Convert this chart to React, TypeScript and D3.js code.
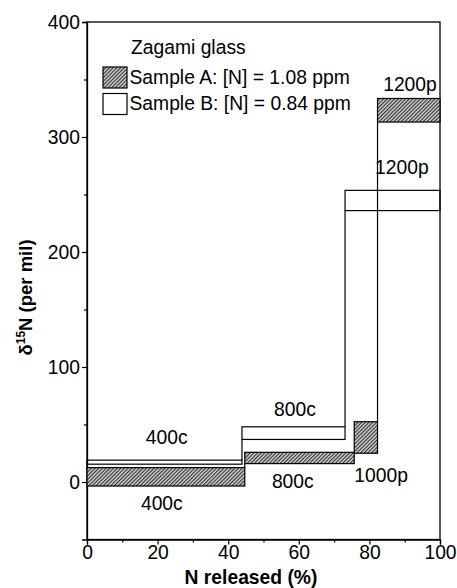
import React, { useEffect, useRef } from 'react';
import * as d3 from 'd3';

// step boxes: release interval (%) and delta range (per mil)
const sampleA = [
  { step: '400c', x0: 0, x1: 44.7, lo: -3.5, hi: 12.5 },
  { step: '800c', x0: 44.7, x1: 75.7, lo: 16, hi: 25.8 },
  { step: '1000p', x0: 75.7, x1: 82.3, lo: 25, hi: 52.4 },
  { step: '1200p', x0: 82.3, x1: 100, lo: 313, hi: 333.5 },
];
const sampleB = [
  { step: '400c', x0: 0, x1: 43.9, lo: 15.5, hi: 19 },
  { step: '800c', x0: 43.9, x1: 73.1, lo: 37, hi: 48 },
  { step: '1200p', x0: 73.1, x1: 100, lo: 236, hi: 253.6 },
];
const stepLabels = [
  { text: '400c', x: 22.6, y: 33 },
  { text: '400c', x: 21.2, y: -24.3 },
  { text: '800c', x: 58.9, y: 57.4 },
  { text: '800c', x: 58.3, y: -5.2 },
  { text: '1000p', x: 83.3, y: 0 },
  { text: '1200p', x: 91.5, y: 340 },
  { text: '1200p', x: 89.2, y: 267.8 },
];
const xTicks = [0, 20, 40, 60, 80, 100];
const xMinor = [10, 30, 50, 70, 90];
const yTicks = [0, 100, 200, 300, 400];
const yMinor = [50, 150, 250, 350];
const legendItems = ['Sample A: [N] = 1.08 ppm', 'Sample B: [N] = 0.84 ppm'];

const FONT = '"Liberation Sans", Arial, Helvetica, sans-serif';
const FS = '19.3px';

const StepChart = () => {
  const svgRef = useRef(null);

  useEffect(() => {
    const svg = d3.select(svgRef.current);
    svg.selectAll('*').remove();

    const x = d3.scaleLinear().domain([0, 100]).range([87, 440]);
    const y = d3.scaleLinear().domain([-50, 400]).range([539.5, 22]);

    // hatch for sample A
    svg.append('defs').append('pattern')
      .attr('id', 'hatch')
      .attr('patternUnits', 'userSpaceOnUse')
      .attr('width', 2.6)
      .attr('height', 2.6)
      .attr('patternTransform', 'rotate(45)')
      .call(p => {
        p.append('rect').attr('width', 2.6).attr('height', 2.6).attr('fill', '#d4d4d4');
        p.append('line').attr('x1', 0.6).attr('x2', 0.6).attr('y1', 0).attr('y2', 2.6)
          .attr('stroke', '#1a1a1a').attr('stroke-width', 1);
      });

    // frame
    svg.append('rect')
      .attr('x', x(0)).attr('y', y(400))
      .attr('width', x(100) - x(0)).attr('height', y(-50) - y(400))
      .attr('fill', 'none').attr('stroke', '#000').attr('stroke-width', 1.3);

    // axes
    const yAxis = svg.append('g')
      .attr('transform', `translate(${x(0)},0)`)
      .call(d3.axisLeft(y).tickValues(yTicks).tickSize(5).tickPadding(2).tickFormat(d3.format('d')));
    svg.append('g')
      .attr('transform', `translate(${x(0)},0)`)
      .call(d3.axisLeft(y).tickValues(yMinor).tickSize(3).tickFormat(() => ''))
      .call(g => g.select('.domain').remove());
    const xAxis = svg.append('g')
      .attr('transform', `translate(0,${y(-50)})`)
      .call(d3.axisBottom(x).tickValues(xTicks).tickSize(5).tickPadding(1).tickFormat(d3.format('d')));
    svg.append('g')
      .attr('transform', `translate(0,${y(-50)})`)
      .call(d3.axisBottom(x).tickValues(xMinor).tickSize(3).tickFormat(() => ''))
      .call(g => g.select('.domain').remove());
    svg.selectAll('.domain').attr('stroke-width', 1.3);
    svg.selectAll('.tick line').attr('stroke-width', 1.2);
    [xAxis, yAxis].forEach(a => a.selectAll('text')
      .style('font-family', FONT).style('font-size', FS).attr('fill', '#000'));

    // connectors between consecutive steps
    const connectors = (data) => data.slice(1).map((d, i) => {
      const prev = data[i];
      return { x: d.x0, y0: Math.min(prev.hi, d.lo), y1: Math.max(prev.hi, d.lo) };
    });

    // sample B boxes (open)
    svg.append('g').selectAll('rect')
      .data(sampleB).enter().append('rect')
      .attr('x', d => x(d.x0)).attr('y', d => y(d.hi))
      .attr('width', d => x(d.x1) - x(d.x0)).attr('height', d => y(d.lo) - y(d.hi))
      .attr('fill', 'none').attr('stroke', '#000').attr('stroke-width', 1.2);
    svg.append('g').selectAll('line')
      .data(connectors(sampleB)).enter().append('line')
      .attr('x1', d => x(d.x)).attr('x2', d => x(d.x))
      .attr('y1', d => y(d.y0)).attr('y2', d => y(d.y1))
      .attr('stroke', '#000').attr('stroke-width', 1.2);

    // sample A boxes (hatched)
    svg.append('g').selectAll('rect')
      .data(sampleA).enter().append('rect')
      .attr('x', d => x(d.x0)).attr('y', d => y(d.hi))
      .attr('width', d => x(d.x1) - x(d.x0)).attr('height', d => y(d.lo) - y(d.hi))
      .attr('fill', 'url(#hatch)').attr('stroke', '#000').attr('stroke-width', 1.2);
    svg.append('g').selectAll('line')
      .data(connectors(sampleA)).enter().append('line')
      .attr('x1', d => x(d.x)).attr('x2', d => x(d.x))
      .attr('y1', d => y(d.y0)).attr('y2', d => y(d.y1))
      .attr('stroke', '#000').attr('stroke-width', 1.2);

    // step labels
    svg.append('g').selectAll('text')
      .data(stepLabels).enter().append('text')
      .attr('x', d => x(d.x)).attr('y', d => y(d.y))
      .attr('text-anchor', 'middle')
      .style('font-family', FONT).style('font-size', FS)
      .text(d => d.text);

    // legend
    const legend = svg.append('g').style('font-family', FONT).style('font-size', FS);
    legend.append('text').attr('x', 131).attr('y', 53.5).text('Zagami glass');
    legendItems.forEach((t, i) => {
      legend.append('rect')
        .attr('x', 103).attr('y', 67 + i * 26.5).attr('width', 24).attr('height', 21)
        .attr('fill', i === 0 ? 'url(#hatch)' : '#fff')
        .attr('stroke', '#000').attr('stroke-width', 1.2);
      legend.append('text').attr('x', 129.5).attr('y', 83.5 + i * 26).text(t);
    });

    // axis titles
    svg.append('text')
      .attr('x', 251).attr('y', 584)
      .attr('text-anchor', 'middle')
      .style('font-family', FONT).style('font-size', FS).style('font-weight', 'bold')
      .text('N released (%)');

    const yt = svg.append('text')
      .attr('transform', 'translate(32,297.5) rotate(-90)')
      .attr('text-anchor', 'middle')
      .style('font-family', FONT).style('font-size', '18.5px').style('font-weight', 'bold');
    yt.append('tspan').text('δ');
    yt.append('tspan').attr('dy', -7).style('font-size', '12px').text('15');
    yt.append('tspan').attr('dy', 7).text('N (per mil)');
  }, []);

  return <svg ref={svgRef} width={457} height={588}
    style={{ position: 'absolute', left: 0, top: 0, background: '#fff' }} />;
};

export default function App() {
  return <StepChart />;
}
